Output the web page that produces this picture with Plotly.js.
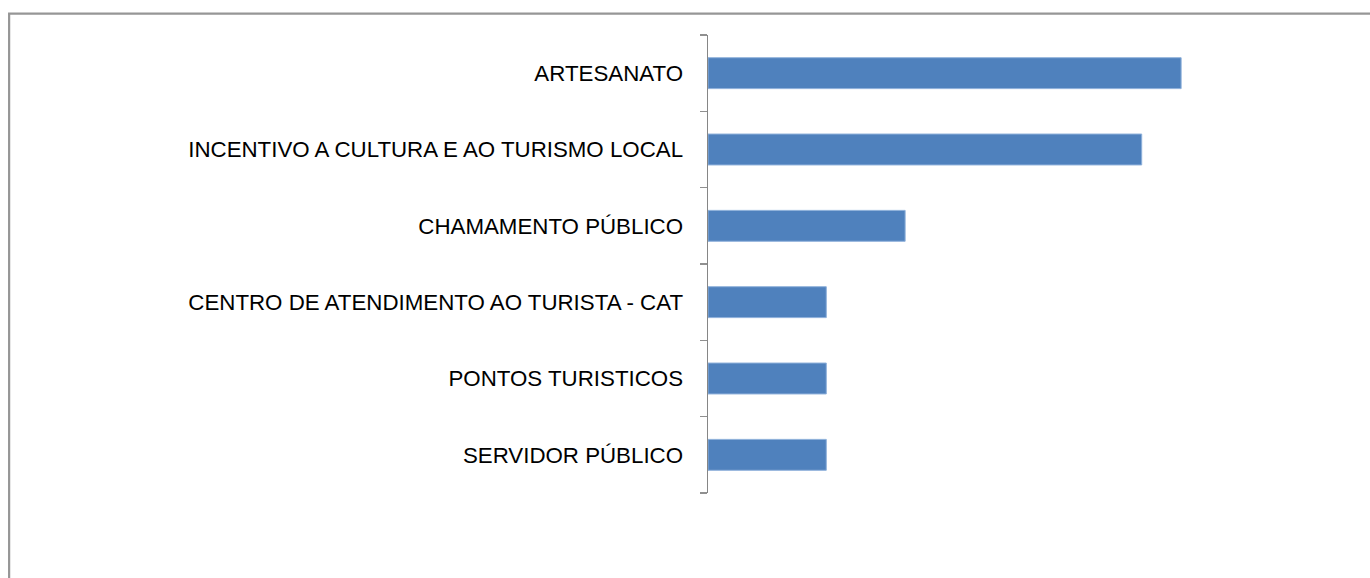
<!DOCTYPE html>
<html>
<head>
<meta charset="utf-8">
<script src="https://cdn.plot.ly/plotly-3.0.1.min.js"></script>
<style>
html,body{margin:0;padding:0;background:#fff;}
#chart{width:1370px;height:578px;}
</style>
</head>
<body>
<div id="chart"></div>
<script>
const categories = [
  "SERVIDOR PÚBLICO",
  "PONTOS TURISTICOS",
  "CENTRO DE ATENDIMENTO AO TURISTA - CAT",
  "CHAMAMENTO PÚBLICO",
  "INCENTIVO A CULTURA E AO TURISMO LOCAL",
  "ARTESANATO"
];
const values = [3, 3, 3, 5, 11, 12];

const L = 707.5, R = 1260, T = 34.5, B = 493.5, W = 1370, H = 578;
const pw = R - L, ph = B - T;
const px = v => (v - L) / pw;
const py = v => (B - v) / ph;

const data = [{
  type: 'bar',
  orientation: 'h',
  y: categories,
  x: values,
  marker: {color: '#4F81BD', line: {color: '#8EB0DA', width: 1}},
  hoverinfo: 'x+y'
}];

const layout = {
  width: W, height: H,
  margin: {l: L, r: W - R, t: T, b: H - B, pad: 0},
  paper_bgcolor: '#ffffff',
  plot_bgcolor: '#ffffff',
  bargap: 0.595,
  showlegend: false,
  font: {family: 'Liberation Sans, Arial, sans-serif', size: 22.3, color: '#000000'},
  xaxis: {
    range: [0, 14],
    visible: false,
    showgrid: false,
    zeroline: false,
    fixedrange: true
  },
  yaxis: {
    type: 'category',
    showline: true,
    linecolor: '#868686',
    linewidth: 1.5,
    ticks: 'outside',
    tickson: 'boundaries',
    ticklen: 7,
    tickwidth: 1.5,
    tickcolor: '#909090',
    showgrid: false,
    zeroline: false,
    ticklabelstandoff: 19,
    tickfont: {family: 'Liberation Sans, Arial, sans-serif', size: 22.3, color: '#000000'},
    fixedrange: true
  },
  shapes: [{
    type: 'rect', xref: 'paper', yref: 'paper',
    x0: px(8), x1: px(1400), y0: py(13), y1: py(620),
    line: {color: '#969696', width: 2.2},
    fillcolor: 'rgba(0,0,0,0)'
  }]
};

Plotly.newPlot('chart', data, layout, {displayModeBar: false, staticPlot: true});
</script>
</body>
</html>
